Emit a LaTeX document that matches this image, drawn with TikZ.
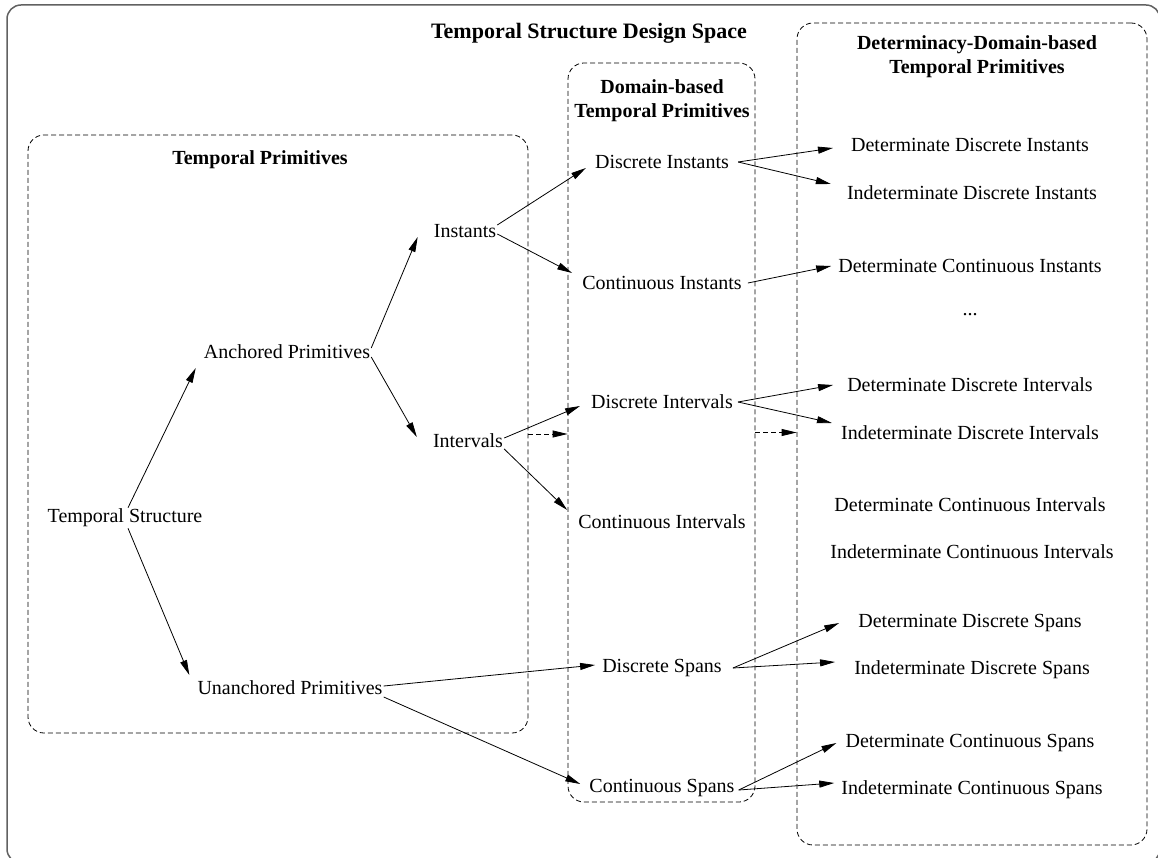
\documentclass[tikz,border=0pt]{standalone}
\usepackage{fontspec}
\setmainfont{Liberation Serif}
\usetikzlibrary{arrows.meta}
\begin{document}
\begin{tikzpicture}[x=1pt,y=-1pt,
 lbl/.style={inner sep=1pt, font=\fontsize{20}{23}\selectfont},
 hdr/.style={inner sep=1pt, font=\fontsize{20}{24}\selectfont\bfseries, align=center},
 arr/.style={-{Triangle[length=15pt,width=7pt]}, line width=0.8pt},
 darr/.style={arr, dash pattern=on 5pt off 3pt},
 grp/.style={draw, dash pattern=on 5pt off 3pt, rounded corners=16pt, line width=0.8pt, inner sep=0pt},
]
\useasboundingbox (0,0) rectangle (1158,858);
\draw[draw=black!62, line width=1.5pt, rounded corners=14pt] (7,5) rectangle (1160,863);
\node[inner sep=1pt, font=\fontsize{22}{26}\selectfont\bfseries] (title) at (589,33) {Temporal Structure Design Space};

% group boxes
\node[grp, minimum width=500pt, minimum height=598pt] (lbox) at (278,434) {};
\node[grp, minimum width=187pt, minimum height=739pt] (mbox) at (661.5,432.5) {};
\node[grp, minimum width=350pt, minimum height=822pt] (rbox) at (972,434) {};

\node[hdr] (h1) at (260,160) {Temporal Primitives};
\node[hdr] (h2) at (662,101) {Domain-based\\Temporal Primitives};
\node[hdr] (h3) at (977,57) {Determinacy-Domain-based\\Temporal Primitives};

% first column
\node[lbl] (ts) at (125,518) {Temporal Structure};
\node[lbl] (ap) at (287,352) {Anchored Primitives};
\node[lbl] (up) at (290,688) {Unanchored Primitives};
\node[lbl] (ins) at (465,231) {Instants};
\node[lbl] (int) at (468,441) {Intervals};

% middle column
\node[lbl] (di) at (662,162) {Discrete Instants};
\node[lbl] (ci) at (662,283) {Continuous Instants};
\node[lbl] (dv) at (662,402) {Discrete Intervals};
\node[lbl] (cv) at (662,522) {Continuous Intervals};
\node[lbl] (ds) at (662,668) {Discrete Spans};
\node[lbl] (cs) at (662,788) {Continuous Spans};

% right column
\node[lbl] (ddi) at (970,145) {Determinate Discrete Instants};
\node[lbl] (idi) at (972,193) {Indeterminate Discrete Instants};
\node[lbl] (dci) at (970,266) {Determinate Continuous Instants};
\node[lbl] (dots) at (970,315) {...};
\node[lbl] (ddv) at (970,385) {Determinate Discrete Intervals};
\node[lbl] (idv) at (970,433) {Indeterminate Discrete Intervals};
\node[lbl] (dcv) at (970,505) {Determinate Continuous Intervals};
\node[lbl] (icv) at (972,552) {Indeterminate Continuous Intervals};
\node[lbl] (dds) at (970,623) {Determinate Discrete Spans};
\node[lbl] (ids) at (972,670) {Indeterminate Discrete Spans};
\node[lbl] (dcs) at (970,743) {Determinate Continuous Spans};
\node[lbl] (ics) at (972,790) {Indeterminate Continuous Spans};

% arrows
\draw[arr] ([xshift=3pt]ts.north) -- ([xshift=-7pt,yshift=-16pt]ap.west);
\draw[arr] ([xshift=3pt]ts.south) -- ([xshift=-7pt,yshift=13pt]up.west);
\draw[arr] ([yshift=4pt]ap.east) -- ([xshift=-15pt,yshift=-6pt]ins.west);
\draw[arr] ([yshift=-5pt]ap.east) -- ([xshift=-15pt,yshift=4pt]int.west);
\draw[arr] ([yshift=6pt]ins.east) -- ([xshift=-8pt,yshift=-6pt]di.west);
\draw[arr] ([yshift=-3pt]ins.east) -- ([xshift=-9pt,yshift=10pt]ci.west);
\draw[arr] ([yshift=3pt]int.east) -- ([xshift=-10pt,yshift=-4pt]dv.west);
\draw[arr] ([yshift=-8pt]int.east) -- ([xshift=-10pt,yshift=12pt]cv.west);
\draw[arr] ([yshift=2pt]up.east) -- ([xshift=-6pt,yshift=3pt]ds.west);
\draw[arr] ([yshift=-9pt]up.east) -- ([xshift=-8pt,yshift=4pt]cs.west);

\draw[arr] ([xshift=8pt]di.east) -- ([xshift=-17pt,yshift=-3pt]ddi.west);
\draw[arr] ([xshift=8pt]di.east) -- ([xshift=-15pt,yshift=9pt]idi.west);
\draw[arr] ([xshift=5pt]ci.east) -- ([xshift=-6pt]dci.west);
\draw[arr] ([xshift=4pt]dv.east) -- ([xshift=-13pt]ddv.west);
\draw[arr] ([xshift=4pt]dv.east) -- ([xshift=-8pt,yshift=10pt]idv.west);
\draw[arr] ([xshift=10pt]ds.east) -- ([xshift=-18pt]dds.west);
\draw[arr] ([xshift=10pt]ds.east) -- ([xshift=-18pt,yshift=8pt]ids.west);
\draw[arr] ([xshift=3pt,yshift=-2pt]cs.east) -- ([xshift=-8pt]dcs.west);
\draw[arr] ([xshift=3pt,yshift=-2pt]cs.east) -- ([xshift=-6pt,yshift=7pt]ics.west);

\draw[darr] (lbox.east) -- (mbox.west |- lbox.east);
\draw[darr] (mbox.east) -- (rbox.west |- mbox.east);
\end{tikzpicture}
\end{document}
